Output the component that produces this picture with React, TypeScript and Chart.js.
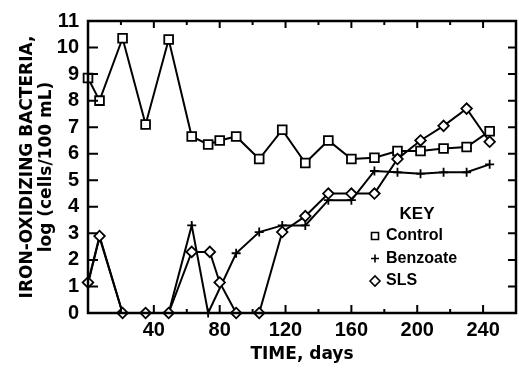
import React, { useEffect, useRef } from 'react';
import { Chart, registerables } from 'chart.js';

Chart.register(...registerables);

// ---- data ----
const CONTROL_DAYS = [0, 7, 21, 35, 49, 63, 73, 80, 90, 104, 118, 132, 146, 160, 174, 188, 202, 216, 230, 244];
const CONTROL_VALUES = [8.85, 8.0, 10.35, 7.1, 10.3, 6.65, 6.35, 6.5, 6.65, 5.8, 6.9, 5.65, 6.5, 5.8, 5.85, 6.1, 6.1, 6.2, 6.25, 6.85];

const BENZOATE_DAYS = [0, 7, 21, 35, 49, 63, 73, 90, 104, 118, 132, 146, 160, 174, 188, 202, 216, 230, 244];
const BENZOATE_VALUES = [1.1, 2.85, 0, 0, 0, 3.3, 0, 2.25, 3.05, 3.3, 3.3, 4.25, 4.25, 5.35, 5.3, 5.25, 5.3, 5.3, 5.6];

const SLS_DAYS = [0, 7, 21, 35, 49, 63, 74, 80, 90, 104, 118, 132, 146, 160, 174, 188, 202, 216, 230, 244];
const SLS_VALUES = [1.15, 2.9, 0, 0, 0, 2.3, 2.3, 1.15, 0, 0, 3.05, 3.65, 4.5, 4.5, 4.5, 5.8, 6.5, 7.05, 7.7, 6.45];

const SERIES_NAMES = ['Control', 'Benzoate', 'SLS'];
const LEGEND_TITLE = 'KEY';

const X_TICK_LABELS = [40, 80, 120, 160, 200, 240];
const X_TICK_MARKS = [20, 40, 60, 80, 100, 120, 140, 160, 180, 200, 220, 240];
const Y_TICK_LABELS = [0, 1, 2, 3, 4, 5, 6, 7, 8, 9, 10, 11];

const X_TITLE = 'TIME, days';
const Y_TITLE = ['IRON-OXIDIZING BACTERIA,', 'log (cells/100 mL)'];

const X_MIN = 0;
const X_MAX = 260;
const Y_MIN = 0;
const Y_MAX = 11;

function toPoints(days: number[], values: number[]) {
  return days.map((d, i) => ({ x: d, y: values[i] }));
}

function drawMarker(ctx: CanvasRenderingContext2D, kind: string, x: number, y: number) {
  ctx.beginPath();
  if (kind === 'rect') {
    ctx.rect(x - 3.5, y - 3.5, 7, 7);
    ctx.fillStyle = '#fff';
    ctx.fill();
    ctx.stroke();
  } else if (kind === 'cross') {
    ctx.moveTo(x - 4, y);
    ctx.lineTo(x + 4, y);
    ctx.moveTo(x, y - 4);
    ctx.lineTo(x, y + 4);
    ctx.stroke();
  } else {
    ctx.moveTo(x - 5, y);
    ctx.lineTo(x, y - 5);
    ctx.lineTo(x + 5, y);
    ctx.lineTo(x, y + 5);
    ctx.closePath();
    ctx.fillStyle = '#fff';
    ctx.fill();
    ctx.stroke();
  }
}

const frameAndKeyPlugin = {
  id: 'frameAndKey',
  afterDraw(chart: any) {
    const { ctx, chartArea } = chart;
    const xs = chart.scales.x;
    const ys = chart.scales.y;
    const { left, right, top, bottom } = chartArea;
    ctx.save();
    ctx.strokeStyle = '#000';
    ctx.lineWidth = 2.5;
    ctx.lineCap = 'butt';
    ctx.strokeRect(left, top, right - left, bottom - top);

    ctx.lineWidth = 2;
    // y ticks (inward), left and right
    Y_TICK_LABELS.forEach((v) => {
      const py = ys.getPixelForValue(v);
      ctx.beginPath();
      ctx.moveTo(left, py);
      ctx.lineTo(left + 10, py);
      ctx.moveTo(right - 8, py);
      ctx.lineTo(right, py);
      ctx.stroke();
    });
    // x ticks (inward), top and bottom
    X_TICK_MARKS.forEach((v) => {
      const px = xs.getPixelForValue(v);
      const major = v % 40 === 0;
      ctx.beginPath();
      ctx.moveTo(px, bottom);
      ctx.lineTo(px, bottom - (major ? 8 : 4));
      ctx.moveTo(px, top);
      ctx.lineTo(px, top + (major ? 7 : 4));
      ctx.stroke();
    });

    // key
    ctx.fillStyle = '#000';
    ctx.textBaseline = 'middle';
    ctx.font = 'bold 17px "Liberation Sans"';
    ctx.textAlign = 'center';
    ctx.fillText(LEGEND_TITLE, 417, 214);
    ctx.textAlign = 'left';
    ctx.font = 'bold 16px "Liberation Sans"';
    const kinds = ['rect', 'cross', 'diamond'];
    SERIES_NAMES.forEach((name, i) => {
      const y = 236 + i * 22.5;
      ctx.lineWidth = 1.6;
      ctx.strokeStyle = '#000';
      drawMarker(ctx, kinds[i], 375, y);
      ctx.fillStyle = '#000';
      ctx.fillText(name, 386, y);
    });
    ctx.restore();
  },
};

export default function App() {
  const ref = useRef<HTMLCanvasElement>(null);

  useEffect(() => {
    const canvas = ref.current;
    if (!canvas) return;
    const common = {
      borderColor: '#000',
      borderWidth: 2,
      pointBorderColor: '#000',
      pointBackgroundColor: '#fff',
      pointBorderWidth: 1.8,
      tension: 0,
      clip: false as any,
      fill: false,
    };
    const chart = new Chart(canvas, {
      type: 'line',
      data: {
        datasets: [
          {
            ...common,
            label: SERIES_NAMES[2],
            data: toPoints(SLS_DAYS, SLS_VALUES),
            pointStyle: 'rectRot',
            pointRadius: 5.3,
            order: 0,
          },
          {
            ...common,
            label: SERIES_NAMES[0],
            data: toPoints(CONTROL_DAYS, CONTROL_VALUES),
            pointStyle: 'rect',
            pointRadius: 6.2,
            order: 1,
          },
          {
            ...common,
            label: SERIES_NAMES[1],
            data: toPoints(BENZOATE_DAYS, BENZOATE_VALUES),
            pointStyle: 'cross',
            pointRadius: 4.5,
            pointBorderWidth: 1.8,
            order: 2,
          },
        ],
      },
      options: {
        responsive: false,
        animation: false,
        devicePixelRatio: 1,
        layout: { padding: { top: 14, right: 4, bottom: 0, left: 0 } },
        plugins: { legend: { display: false }, tooltip: { enabled: false } },
        scales: {
          x: {
            type: 'linear',
            min: X_MIN,
            max: X_MAX,
            afterBuildTicks: (s: any) => {
              s.ticks = X_TICK_LABELS.map((v) => ({ value: v }));
            },
            afterFit: (s: any) => {
              s.height = 55;
            },
            grid: { display: false, drawTicks: false },
            border: { display: false },
            ticks: {
              color: '#000',
              padding: 5,
              maxRotation: 0,
              autoSkip: false,
              font: { family: '"Liberation Sans"', size: 20, weight: 'bold' },
            },
            title: {
              display: true,
              text: X_TITLE,
              color: '#000',
              font: { family: '"DejaVu Sans"', size: 17, weight: 'bold', lineHeight: '20px' },
              padding: { top: 0, bottom: 3 },
            },
          },
          y: {
            type: 'linear',
            min: Y_MIN,
            max: Y_MAX,
            afterBuildTicks: (s: any) => {
              s.ticks = Y_TICK_LABELS.map((v) => ({ value: v }));
            },
            afterFit: (s: any) => {
              s.width = 88;
            },
            grid: { display: false, drawTicks: false },
            border: { display: false },
            ticks: {
              color: '#000',
              padding: 9,
              autoSkip: false,
              font: { family: '"Liberation Sans"', size: 20, weight: 'bold' },
            },
            title: {
              display: true,
              text: Y_TITLE,
              color: '#000',
              font: { family: '"DejaVu Sans"', size: 17, weight: 'bold', lineHeight: '19px' },
              padding: { top: 18, bottom: 0 },
            },
          },
        },
      },
      plugins: [frameAndKeyPlugin],
    } as any);
    return () => chart.destroy();
  }, []);

  return (
    <div
      style={{
        position: 'fixed',
        left: 0,
        top: 0,
        width: 519,
        height: 368,
        overflow: 'hidden',
        background: '#fff',
      }}
    >
      <canvas ref={ref} width={524} height={368} style={{ display: 'block', width: 524, height: 368 }} />
    </div>
  );
}
